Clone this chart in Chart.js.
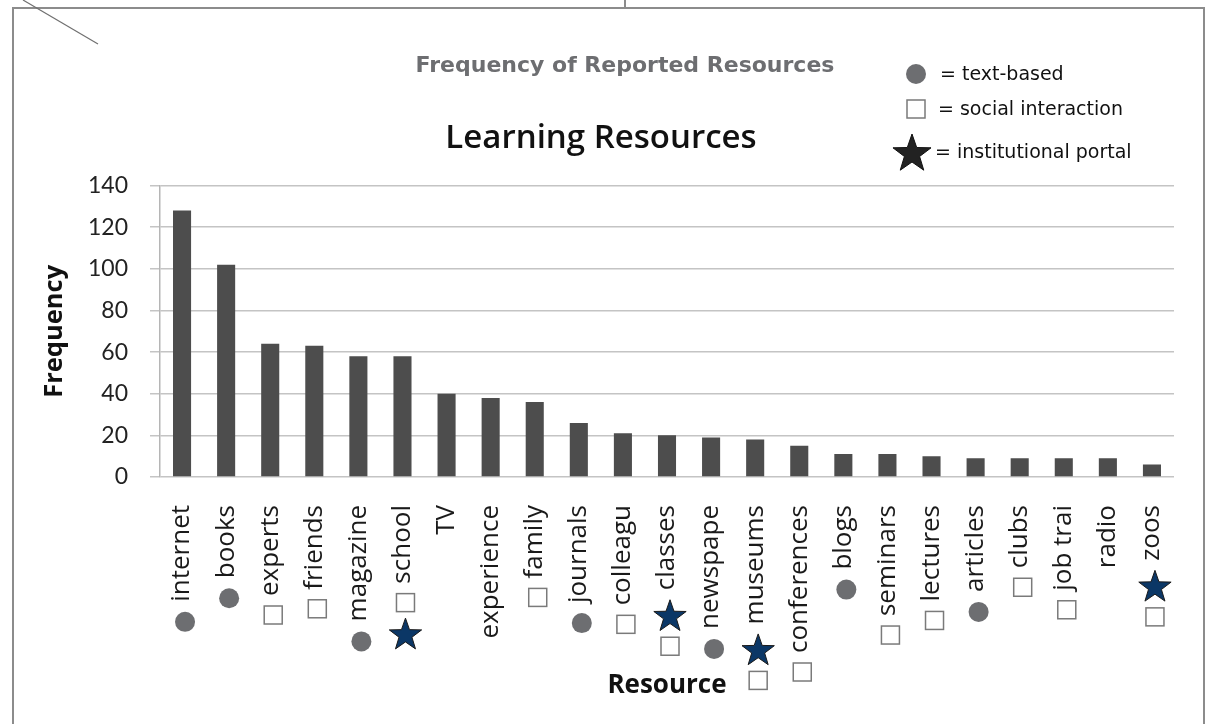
<!DOCTYPE html>
<html>
<head>
<meta charset="utf-8">
<title>Learning Resources</title>
<script src="https://cdn.jsdelivr.net/npm/chart.js@4.4.1/dist/chart.umd.min.js"></script>
<style>
  html, body { margin: 0; padding: 0; background: #fff; }
  #wrap { position: relative; width: 1207px; height: 724px; overflow: hidden; }
  canvas { display: block; }
</style>
</head>
<body>
<div id="wrap"><canvas id="resources-chart" width="1207" height="724"></canvas></div>
<script>
// data
const resources = ['internet', 'books', 'experts', 'friends', 'magazine', 'school', 'TV', 'experience',
    'family', 'journals', 'colleagu', 'classes', 'newspape', 'museums', 'conferences', 'blogs',
    'seminars', 'lectures', 'articles', 'clubs', 'job trai', 'radio', 'zoos'];
const frequencies = [128, 102, 64, 63, 58, 58, 40, 38, 36, 26, 21, 20, 19, 18, 15, 11, 11, 10, 9, 9, 9, 9, 6];
// T = text-based, S = social interaction, P = institutional portal (order = outward from the label)
const resourceTags = ['T', 'T', 'S', 'S', 'T', 'SP', '', '', 'S', 'T', 'S', 'PS', 'T', 'PS', 'S', 'T',
    'S', 'S', 'T', 'S', 'S', '', 'PS'];
const yTicks = [0, 20, 40, 60, 80, 100, 120, 140];

const LABEL_FONT = { family: 'Open Sans', size: 26 };
const X_TICK_PAD = 28;
const TEXT_GAP = 10;
const SYMBOL_GAP = 7;
const SYMBOL_HALF = { T: 10, S: 9, P: 15 };

function drawStar(ctx, cx, cy, r, fill, stroke) {
    ctx.beginPath();
    for (let k = 0; k < 10; k++) {
        const rad = k % 2 === 0 ? r : r * 0.4;
        const a = -Math.PI / 2 + k * Math.PI / 5;
        const px = cx + rad * Math.cos(a);
        const py = cy + rad * Math.sin(a);
        if (k === 0) ctx.moveTo(px, py); else ctx.lineTo(px, py);
    }
    ctx.closePath();
    ctx.fillStyle = fill;
    ctx.fill();
    ctx.lineWidth = 1;
    ctx.strokeStyle = stroke;
    ctx.stroke();
}

function drawSymbol(ctx, code, x, y) {
    if (code === 'T') {
        ctx.beginPath();
        ctx.arc(x, y, 10, 0, Math.PI * 2);
        ctx.fillStyle = '#6d6e71';
        ctx.fill();
    } else if (code === 'S') {
        ctx.fillStyle = '#fff';
        ctx.fillRect(x - 9, y - 9, 18, 18);
        ctx.lineWidth = 1.5;
        ctx.strokeStyle = '#7a7a7a';
        ctx.strokeRect(x - 9, y - 9, 18, 18);
    } else if (code === 'P') {
        drawStar(ctx, x, y + 1.5, 17, '#0b3766', '#1a1a1a');
    }
}

// frame lines of the original slide
const framePlugin = {
    id: 'frame',
    beforeDraw(chart) {
        const ctx = chart.ctx;
        ctx.save();
        ctx.fillStyle = '#fff';
        ctx.fillRect(0, 0, chart.width, chart.height);
        ctx.strokeStyle = '#8c8c8c';
        ctx.lineWidth = 2;
        ctx.strokeRect(13, 8, 1191, 760);
        ctx.beginPath();
        ctx.moveTo(625, 0);
        ctx.lineTo(625, 8);
        ctx.stroke();
        ctx.lineWidth = 1.2;
        ctx.strokeStyle = '#707070';
        ctx.beginPath();
        ctx.moveTo(23, 0);
        ctx.lineTo(98, 44);
        ctx.stroke();
        ctx.restore();
    }
};

// heading + symbol key
const headerPlugin = {
    id: 'header',
    afterDraw(chart) {
        const ctx = chart.ctx;
        ctx.save();
        ctx.textBaseline = 'middle';
        ctx.textAlign = 'center';
        ctx.fillStyle = '#6d6e71';
        ctx.font = 'bold 22px "DejaVu Sans"';
        ctx.fillText('Frequency of Reported Resources', 625, 66);

        ctx.textAlign = 'left';
        ctx.font = '19px "DejaVu Sans"';
        drawSymbol(ctx, 'T', 916, 74);
        ctx.fillStyle = '#111';
        ctx.fillText('= text-based', 940, 75);
        drawSymbol(ctx, 'S', 916, 109);
        ctx.fillStyle = '#111';
        ctx.fillText('= social interaction', 938, 110);
        drawStar(ctx, 912, 154, 20, '#222', '#111');
        ctx.fillStyle = '#111';
        ctx.fillText('= institutional portal', 935, 153);
        ctx.restore();
    }
};

// category symbols after each rotated tick label
const tagPlugin = {
    id: 'tags',
    afterDraw(chart) {
        const ctx = chart.ctx;
        const xScale = chart.scales.x;
        ctx.save();
        ctx.font = `${LABEL_FONT.size}px "${LABEL_FONT.family}"`;
        resources.forEach((label, i) => {
            const x = xScale.getPixelForTick(i) + 3;
            let y = xScale.top + X_TICK_PAD + ctx.measureText(label).width;
            let prevHalf = 0;
            for (const code of resourceTags[i]) {
                const half = SYMBOL_HALF[code];
                y += (prevHalf ? prevHalf + SYMBOL_GAP : TEXT_GAP) + half;
                drawSymbol(ctx, code, x, y);
                prevHalf = half;
            }
        });
        ctx.restore();
    }
};

new Chart(document.getElementById('resources-chart'), {
    type: 'bar',
    data: {
        labels: resources,
        datasets: [{
            label: 'Frequency',
            data: frequencies,
            backgroundColor: '#4d4d4d',
            barPercentage: 0.41,
            categoryPercentage: 1
        }]
    },
    options: {
        responsive: false,
        animation: false,
        devicePixelRatio: 1,
        layout: { padding: { left: 28, right: 33, top: 0, bottom: 0 } },
        plugins: {
            legend: { display: false },
            tooltip: { enabled: false },
            title: {
                display: true,
                text: 'Learning Resources',
                color: '#111',
                font: { family: 'Open Sans', size: 33, weight: '600' },
                padding: { top: 119, bottom: 27 }
            }
        },
        scales: {
            x: {
                grid: { display: false, drawTicks: false },
                border: { display: false },
                ticks: {
                    autoSkip: false,
                    minRotation: 90,
                    maxRotation: 90,
                    padding: X_TICK_PAD,
                    color: '#1a1a1a',
                    font: LABEL_FONT
                },
                title: {
                    display: true,
                    text: 'Resource',
                    color: '#111',
                    font: { family: 'Open Sans', size: 26, weight: 'bold' },
                    padding: { top: 0, bottom: 23 }
                },
                afterFit: (scale) => {
                    scale.height = 247;
                    scale.paddingLeft = 0;
                    scale.paddingRight = 0;
                }
            },
            y: {
                min: 0,
                max: 140,
                afterBuildTicks: (scale) => { scale.ticks = yTicks.map(v => ({ value: v })); },
                ticks: { padding: 22, color: '#222', font: { family: 'Lato', size: 23 } },
                grid: { color: '#c4c4c4', lineWidth: 1.5, tickLength: 10 },
                border: { display: true, color: '#b5b5b5', width: 1.5 },
                title: {
                    display: true,
                    text: 'Frequency',
                    color: '#111',
                    font: { family: 'Open Sans', size: 25.5, weight: 'bold' },
                    padding: { top: 11, bottom: 0 }
                },
                afterFit: (scale) => { scale.width = 132; }
            }
        }
    },
    plugins: [framePlugin, headerPlugin, tagPlugin]
});
</script>
</body>
</html>
